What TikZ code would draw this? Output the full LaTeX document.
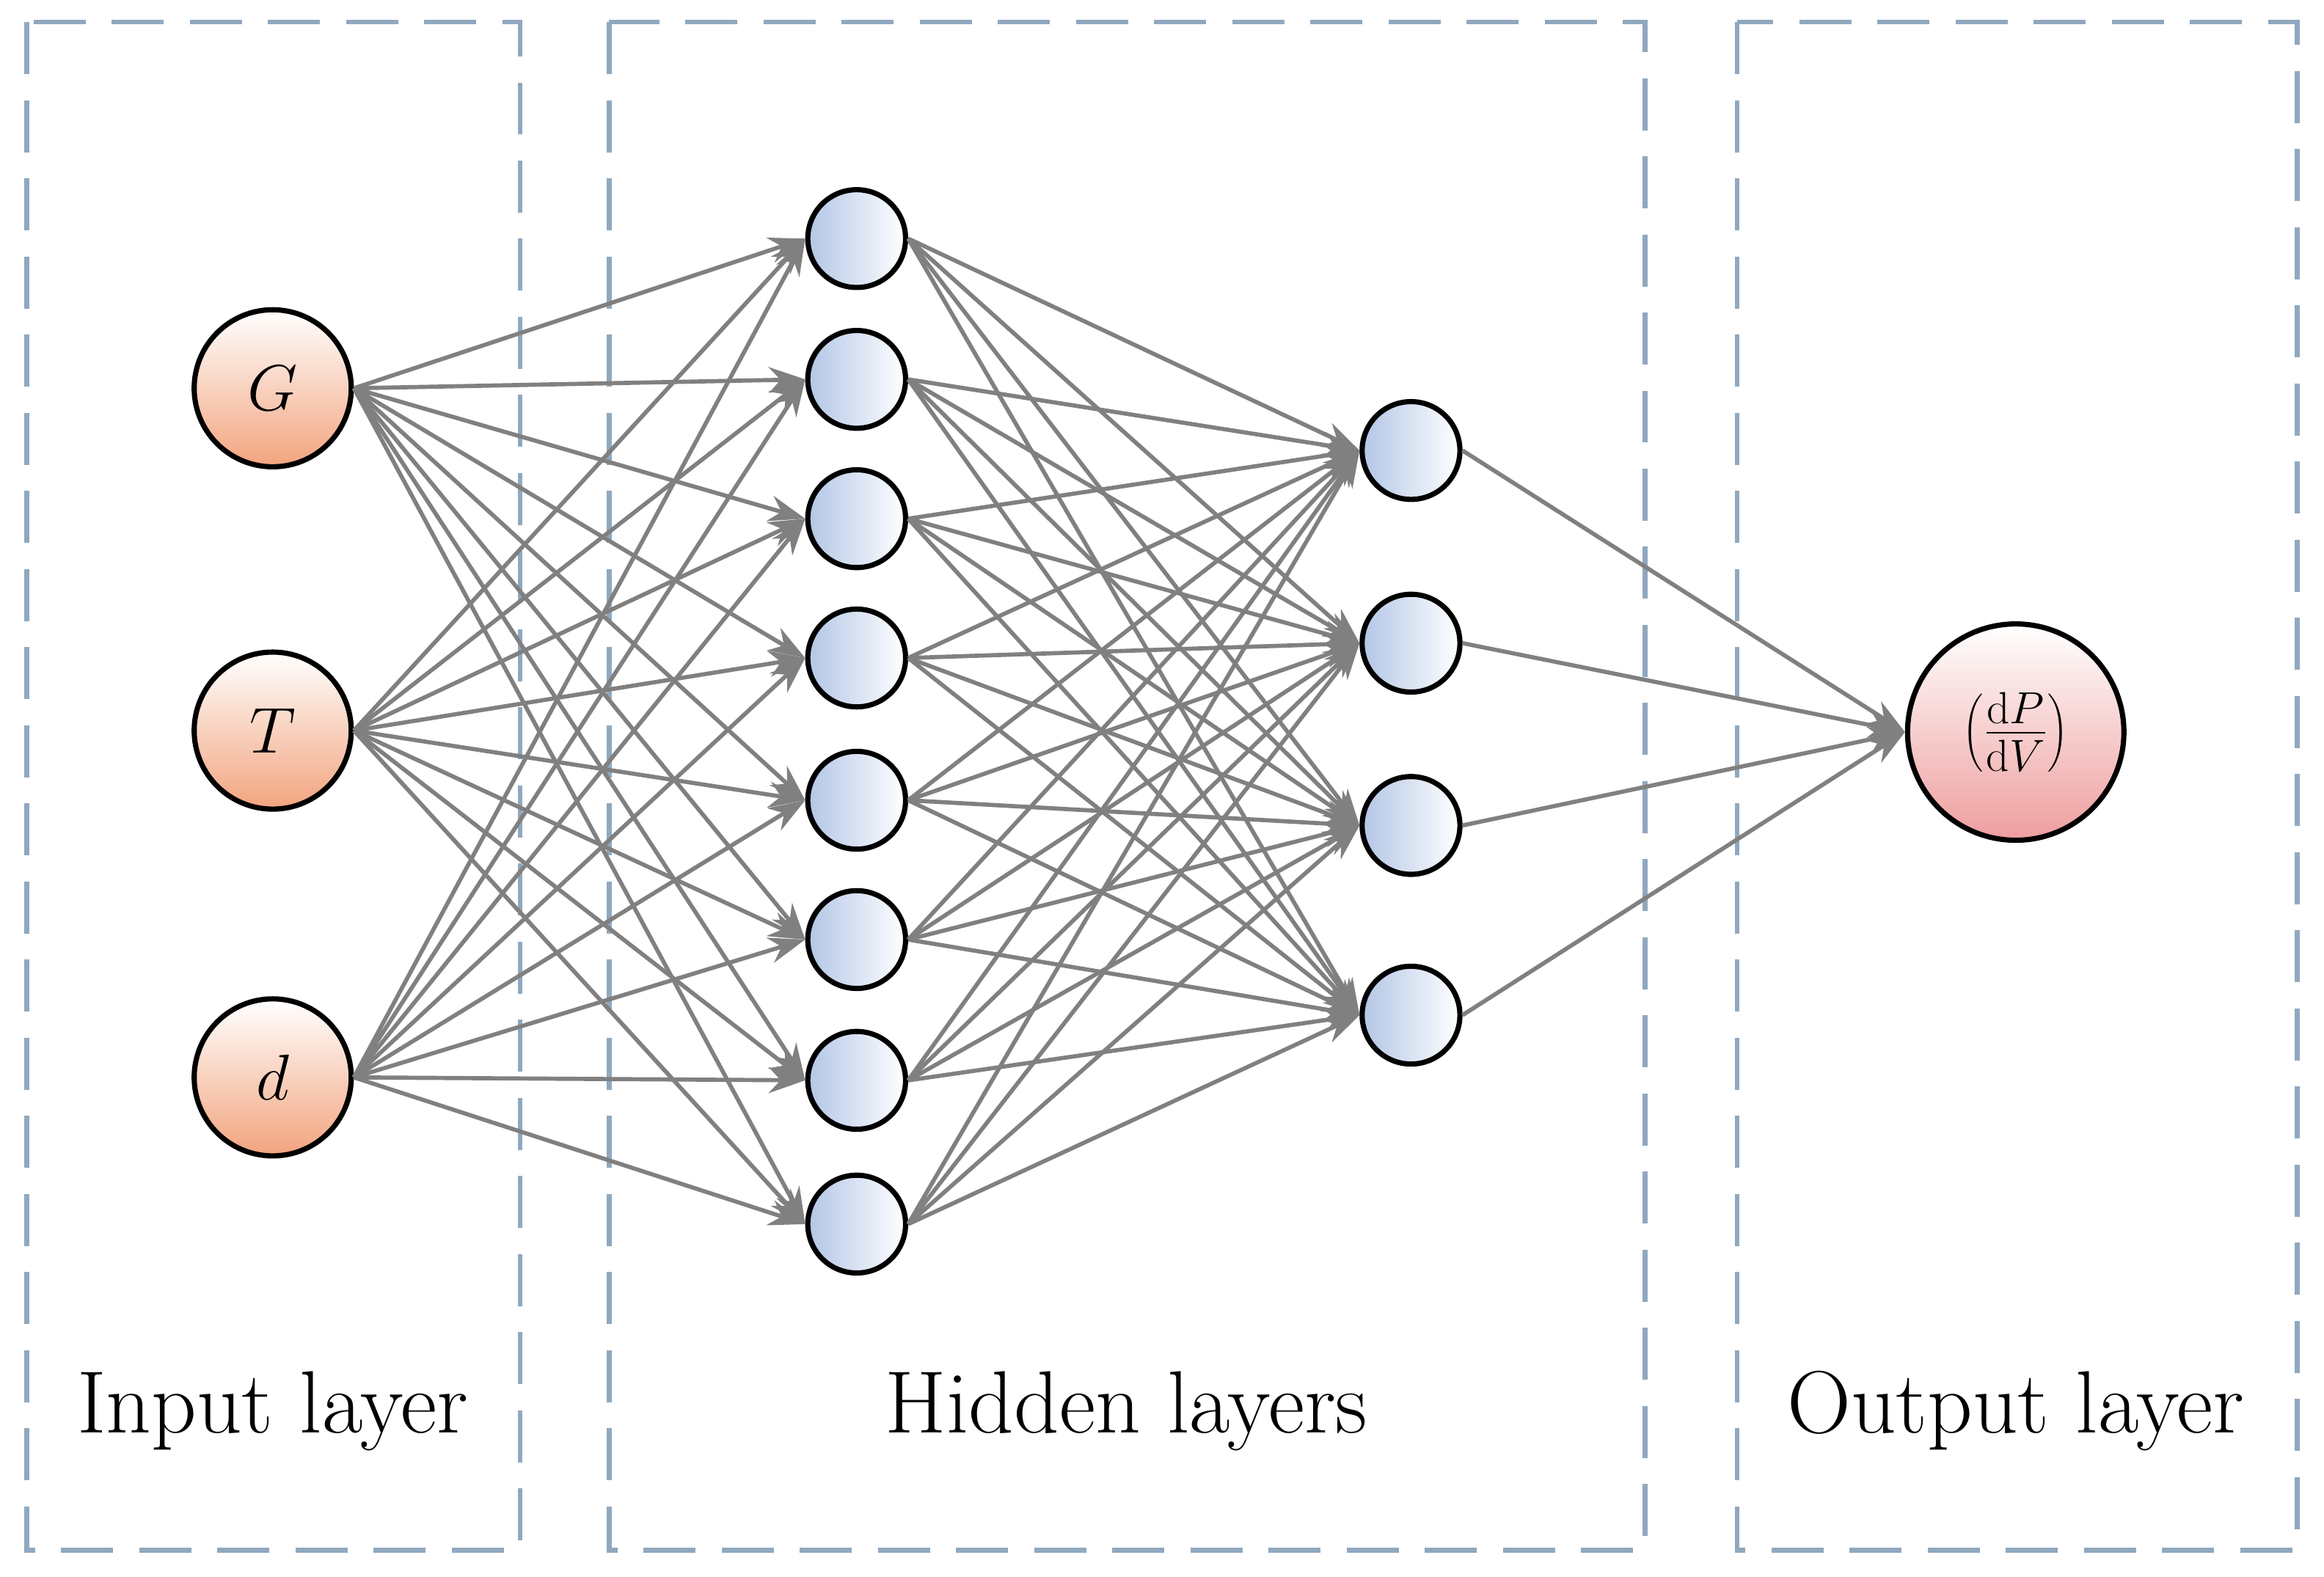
\documentclass[tikz,border=0pt]{standalone}
\usetikzlibrary{arrows.meta,shadings}
\definecolor{boxc}{HTML}{8FA8BF}
\definecolor{inc}{HTML}{F2A47E}
\definecolor{hidc}{HTML}{B3C6E6}
\definecolor{outc}{HTML}{EE9E9E}
\begin{document}
\begin{tikzpicture}[x=0.02cm,y=-0.02cm,
  box/.style={draw=boxc,line width=1.8pt,dash pattern=on 20pt off 10pt},
  inn/.style={circle,draw=black,line width=2pt,minimum size=2.12cm,inner sep=0pt,top color=white,bottom color=inc,font=\fontsize{40}{44}\selectfont},
  hid/.style={circle,draw=black,line width=2pt,minimum size=1.32cm,inner sep=0pt,left color=hidc,right color=white},
  outn/.style={circle,draw=black,line width=2pt,minimum size=2.92cm,inner sep=0pt,top color=white,bottom color=outc,font=\fontsize{26}{30}\selectfont},
  con/.style={draw=gray,line width=1.6pt,-{Stealth[length=14pt,width=10pt]}},
  lab/.style={font=\fontsize{34}{40}\selectfont}]
\useasboundingbox (0,0) rectangle (1568,1064);
\draw[box] (18,15) rectangle (351,1046);
\draw[box] (411,15) rectangle (1110,1046);
\draw[box] (1172,15) rectangle (1550,1046);
\node[inn] (i1) at (184,262) {$G$};
\node[inn] (i2) at (184,493) {$T$};
\node[inn] (i3) at (184,727) {$d$};
\foreach \k/\y in {1/161,2/256,3/350,4/444,5/540,6/634,7/729,8/826}
  \node[hid] (h\k) at (578,\y) {};
\foreach \k/\y in {1/304,2/434,3/557,4/685}
  \node[hid] (g\k) at (952,\y) {};
\node[outn] (o) at (1360,494) {$\left(\frac{\mathrm{d}P}{\mathrm{d}V}\right)$};
\foreach \a in {1,2,3} \foreach \b in {1,...,8} \draw[con] (i\a.east) -- (h\b.west);
\foreach \a in {1,...,8} \foreach \b in {1,...,4} \draw[con] (h\a.east) -- (g\b.west);
\foreach \a in {1,...,4} \draw[con] (g\a.east) -- (o.west);
\node[lab] (l1) at (184,952) {Input layer};
\node[lab] (l2) at (760,952) {Hidden layers};
\node[lab] (l3) at (1360,952) {Output layer};
\end{tikzpicture}
\end{document}
